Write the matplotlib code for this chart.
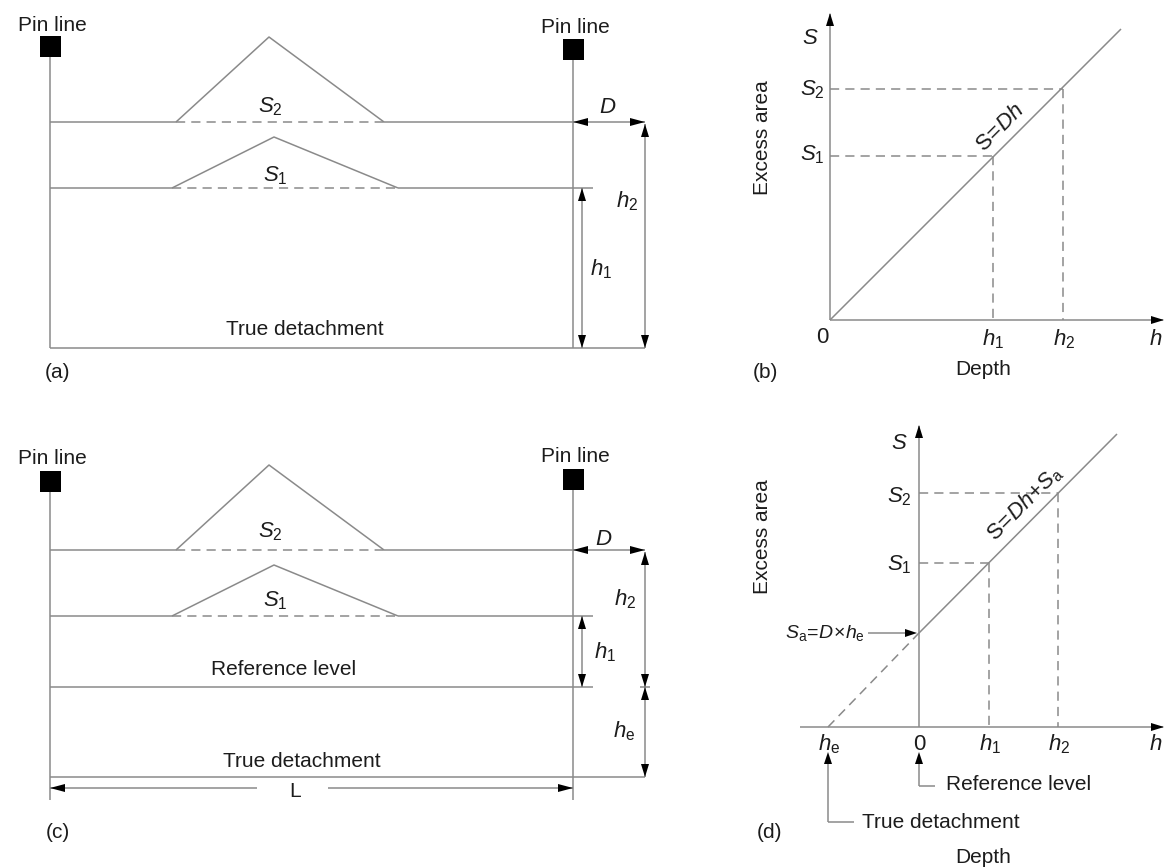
import matplotlib.pyplot as plt
from matplotlib.patches import Polygon, Rectangle

plt.rcParams['font.family'] = ['Liberation Sans', 'DejaVu Sans']
plt.rcParams['mathtext.fontset'] = 'custom'
plt.rcParams['mathtext.rm'] = 'Liberation Sans'
plt.rcParams['mathtext.it'] = 'Liberation Sans:italic'
plt.rcParams['mathtext.bf'] = 'Liberation Sans:bold'

GREY = '#8a8a8a'
INK = '#1c1c1c'
DASH = (0, (6, 4))

# cross sections (a) and (c), pixel positions on the page
pin_x = [50, 573]
fold_s2_x = [176, 269, 384]
fold_s1_x = [172, 274, 398]
a_levels = [122, 188, 348]          # upper horizon, lower horizon, detachment
a_peaks = [37, 137]
c_levels = [550, 616, 687, 777]     # upper, lower, reference level, detachment
c_peaks = [465, 565]
dim_x = [582, 645]                  # h1 and h2 dimension lines

# graphs (b) and (d)
b_origin = (830, 320)
b_line_end = (1121, 29)
b_h = [993, 1063]                   # h1, h2
b_S = [156, 89]                     # S1, S2
d_origin = (919, 727)
d_line_start = (828, 727)           # h_e on the depth axis
d_Sa = 633
d_line_end = (1117, 434)
d_h = [989, 1058]
d_S = [563, 493]

SYM = 16   # size of the italic symbols


def head(ax, tip, d, L=13, W=8):
    x, y = tip
    dx, dy = d
    px, py = -dy, dx
    pts = [(x, y),
           (x - L * dx + W / 2 * px, y - L * dy + W / 2 * py),
           (x - L * dx - W / 2 * px, y - L * dy - W / 2 * py)]
    ax.add_patch(Polygon(pts, closed=True, fc='black', ec='none', zorder=5))


def line(ax, xs, ys, dashed=False):
    ax.plot(xs, ys, color=GREY, lw=1.1, ls=DASH if dashed else '-',
            solid_capstyle='butt', zorder=2)


def vdim(ax, x, y0, y1):
    line(ax, [x, x], [y0, y1])
    head(ax, (x, y0), (0, -1))
    head(ax, (x, y1), (0, 1))


def label(ax, x, y, s, size=15, **kw):
    ax.text(x, y, s, fontsize=size, color=INK, ha=kw.pop('ha', 'center'),
            va=kw.pop('va', 'baseline'), **kw)


def pin(ax, x, top, bottom, text_y):
    ax.add_patch(Rectangle((x - 10.5, top), 21, 21, fc='black', ec='none', zorder=4))
    line(ax, [x, x], [top + 21, bottom])
    label(ax, x + 2, text_y, 'Pin line')


def section(ax, y_up, y_low, peaks):
    # upper horizon with the S2 fold
    line(ax, [pin_x[0], fold_s2_x[0]], [y_up, y_up])
    line(ax, fold_s2_x, [y_up, peaks[0], y_up])
    line(ax, [fold_s2_x[0], fold_s2_x[2]], [y_up, y_up], dashed=True)
    line(ax, [fold_s2_x[2], pin_x[1]], [y_up, y_up])
    # lower horizon with the S1 fold
    line(ax, [pin_x[0], fold_s1_x[0]], [y_low, y_low])
    line(ax, fold_s1_x, [y_low, peaks[1], y_low])
    line(ax, [fold_s1_x[0], fold_s1_x[2]], [y_low, y_low], dashed=True)
    line(ax, [fold_s1_x[2], 593], [y_low, y_low])
    # D arrow at the right pin line
    line(ax, [pin_x[1], dim_x[1]], [y_up, y_up])
    head(ax, (pin_x[1], y_up), (-1, 0), L=15)
    head(ax, (dim_x[1], y_up), (1, 0), L=15)


fig = plt.figure(figsize=(11.64, 8.68), dpi=100)
ax = fig.add_axes([0, 0, 1, 1])
ax.set_xlim(0, 1164)
ax.set_ylim(868, 0)
ax.axis('off')

# ---------------- (a)
y_up, y_low, y_det = a_levels
pin(ax, pin_x[0], 36, y_det, 31)
pin(ax, pin_x[1], 39, y_det, 33)
section(ax, y_up, y_low, a_peaks)
line(ax, [pin_x[0], dim_x[1]], [y_det, y_det])
vdim(ax, dim_x[0], y_low, y_det)
vdim(ax, dim_x[1], y_up + 2, y_det)
label(ax, 270, 112, r'$S_2$', size=SYM)
label(ax, 275, 181, r'$S_1$', size=SYM)
label(ax, 608, 113, r'$D$', size=SYM)
label(ax, 627, 207, r'$h_2$', size=SYM)
label(ax, 601, 275, r'$h_1$', size=SYM)
label(ax, 305, 335, 'True detachment')
label(ax, 58, 372, '(a)', va='center')

# ---------------- (c)
y_up, y_low, y_ref, y_det = c_levels
pin(ax, pin_x[0], 471, 800, 464)
pin(ax, pin_x[1], 469, 800, 462)
section(ax, y_up, y_low, c_peaks)
line(ax, [pin_x[0], 593], [y_ref, y_ref])
line(ax, [pin_x[0], dim_x[1]], [y_det, y_det])
vdim(ax, dim_x[0], y_low, y_ref)
vdim(ax, dim_x[1], y_up + 2, y_ref)
vdim(ax, dim_x[1], y_ref, y_det)
line(ax, [dim_x[1] - 5, dim_x[1] + 5], [y_ref, y_ref])
# L dimension
line(ax, [pin_x[0], 257], [788, 788])
line(ax, [328, pin_x[1]], [788, 788])
head(ax, (pin_x[0], 788), (-1, 0), L=15)
head(ax, (pin_x[1], 788), (1, 0), L=15)
label(ax, 295, 797, 'L')
label(ax, 270, 537, r'$S_2$', size=SYM)
label(ax, 275, 606, r'$S_1$', size=SYM)
label(ax, 604, 545, r'$D$', size=SYM)
label(ax, 625, 605, r'$h_2$', size=SYM)
label(ax, 605, 658, r'$h_1$', size=SYM)
label(ax, 624, 737, r'$h_\mathrm{e}$', size=SYM)
label(ax, 284, 675, 'Reference level')
label(ax, 302, 767, 'True detachment')
label(ax, 58, 832, '(c)', va='center')

# ---------------- (b)
ox, oy = b_origin
line(ax, [ox, ox], [oy, 14])
head(ax, (ox, 13), (0, -1))
line(ax, [ox, 1163], [oy, oy])
head(ax, (1164, oy), (1, 0))
line(ax, [ox, b_line_end[0]], [oy, b_line_end[1]])
for hx, sy in zip(b_h, b_S):
    line(ax, [ox, hx], [sy, sy], dashed=True)
    line(ax, [hx, hx], [sy, oy], dashed=True)
label(ax, 810, 44, r'$S$', size=SYM)
label(ax, 812, 95, r'$S_2$', size=SYM)
label(ax, 812, 160, r'$S_1$', size=SYM)
label(ax, 822, 343, '0', size=SYM)
label(ax, 993, 345, r'$h_1$', size=SYM)
label(ax, 1064, 345, r'$h_2$', size=SYM)
label(ax, 1156, 345, r'$h$', size=SYM)
label(ax, 983, 375, 'Depth')
label(ax, 765, 372, '(b)', va='center')
label(ax, 763, 138, 'Excess area', va='center', rotation=90)
ax.text(1000, 128, r'$\mathrm{S}\!=\!Dh$', fontsize=SYM, color=INK, rotation=45,
        ha='center', va='center', rotation_mode='anchor')

# ---------------- (d)
ox, oy = d_origin
line(ax, [ox, ox], [oy, 426])
head(ax, (ox, 425), (0, -1))
line(ax, [800, 1163], [oy, oy])
head(ax, (1164, oy), (1, 0))
line(ax, [ox, d_line_end[0]], [d_Sa, d_line_end[1]])
line(ax, [d_line_start[0], ox], [d_line_start[1], d_Sa], dashed=True)
for hx, sy in zip(d_h, d_S):
    line(ax, [ox, hx], [sy, sy], dashed=True)
    line(ax, [hx, hx], [sy, oy], dashed=True)
# S_a callout
line(ax, [868, 905], [d_Sa, d_Sa])
head(ax, (917, d_Sa), (1, 0), L=12, W=8)
label(ax, 825, 638, r'$S_\mathrm{a}\!=\!D\!\times\! h_\mathrm{e}$', size=14)
# axis callouts
line(ax, [ox, ox], [786, 764])
line(ax, [ox, 935], [786, 786])
head(ax, (ox, 752), (0, -1), L=12, W=8)
label(ax, 946, 790, 'Reference level', ha='left')
line(ax, [d_line_start[0], d_line_start[0]], [822, 764])
line(ax, [d_line_start[0], 854], [822, 822])
head(ax, (d_line_start[0], 752), (0, -1), L=12, W=8)
label(ax, 862, 828, 'True detachment', ha='left')
label(ax, 899, 449, r'$S$', size=SYM)
label(ax, 899, 502, r'$S_2$', size=SYM)
label(ax, 899, 570, r'$S_1$', size=SYM)
label(ax, 829, 750, r'$h_\mathrm{e}$', size=SYM)
label(ax, 919, 750, '0', size=SYM)
label(ax, 990, 750, r'$h_1$', size=SYM)
label(ax, 1059, 750, r'$h_2$', size=SYM)
label(ax, 1156, 750, r'$h$', size=SYM)
label(ax, 983, 863, 'Depth')
label(ax, 770, 832, '(d)', va='center')
label(ax, 763, 537, 'Excess area', va='center', rotation=90)
ax.text(1025, 503, r'$\mathrm{S}\!=\!Dh\!+\!S_\mathrm{a}$', fontsize=SYM, color=INK,
        rotation=45, ha='center', va='center', rotation_mode='anchor')

fig.savefig('out.png', dpi=100)
